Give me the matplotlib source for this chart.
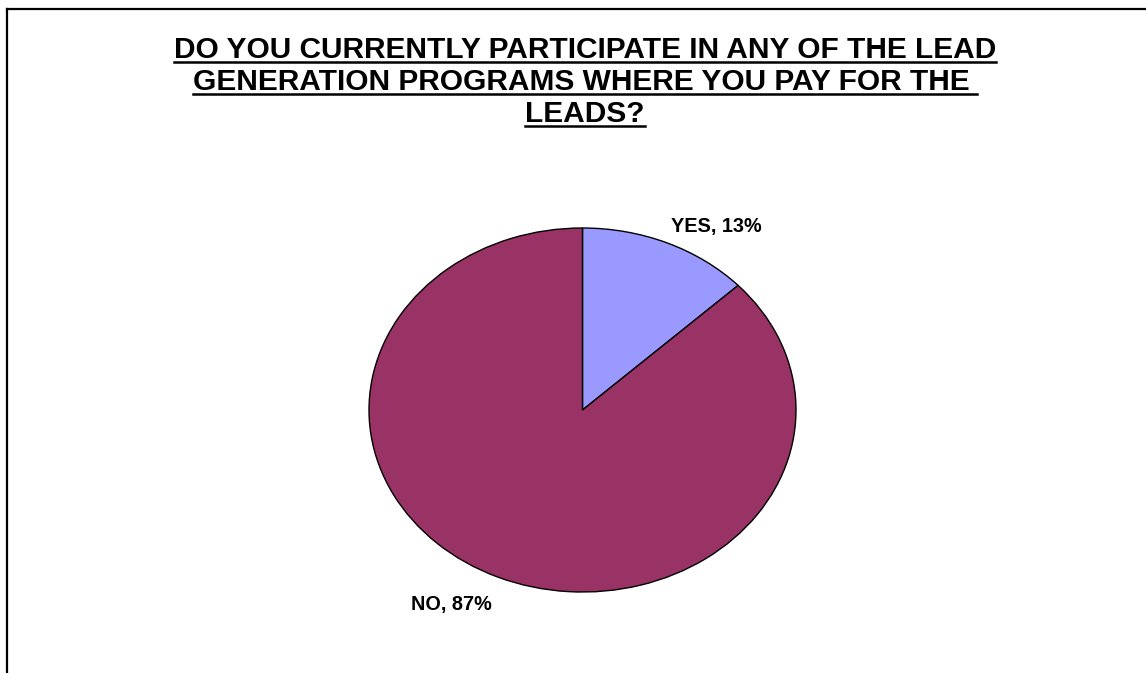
import matplotlib
matplotlib.use("Agg")
import matplotlib.pyplot as plt
from matplotlib.lines import Line2D
import numpy as np

categories = ["YES", "NO"]
shares = [13, 87]
colors = ["#9999FF", "#993366"]
title_lines = [
    "DO YOU CURRENTLY PARTICIPATE IN ANY OF THE LEAD",
    "GENERATION PROGRAMS WHERE YOU PAY FOR THE ",
    "LEADS?",
]

plt.rcParams["font.family"] = ["Liberation Sans", "DejaVu Sans"]

W, H = 1146, 673
fig = plt.figure(figsize=(W / 100, H / 100), dpi=100)
fig.patch.set_facecolor("white")

# pie axes: stretched ellipse, not equal aspect
cx, cy, rx, ry = 582.5, 410, 213.5, 182
ax = fig.add_axes([(cx - rx) / W, (H - cy - ry) / H, 2 * rx / W, 2 * ry / H])
wedges, _ = ax.pie(
    shares,
    colors=colors,
    startangle=90,
    counterclock=False,
    wedgeprops=dict(edgecolor="black", linewidth=1.0),
)
ax.set_aspect("auto")
ax.set_xlim(-1, 1)
ax.set_ylim(-1, 1)
ax.axis("off")

# data labels set just outside each wedge's rim
label_offsets = [(3, 12), (-4, -20)]  # points
for w, cat, val, off in zip(wedges, categories, shares, label_offsets):
    mid = np.deg2rad((w.theta1 + w.theta2) / 2)
    x, y = np.cos(mid), np.sin(mid)
    ax.annotate(f"{cat}, {val}%", xy=(x, y), xytext=off,
                textcoords="offset points",
                ha="left" if x > 0 else "right", va="center",
                fontsize=14.3, fontweight="bold", annotation_clip=False)

# underlined, centred title lines
title_cx = 585
baselines = [58, 90, 122]
fig.canvas.draw()
renderer = fig.canvas.get_renderer()
for line, by in zip(title_lines, baselines):
    t = fig.text(title_cx / W, 1 - by / H, line, ha="center", va="baseline",
                 fontsize=21.5, fontweight="bold")
    bb = t.get_window_extent(renderer=renderer)
    uy = (H - by - 4) / H
    fig.add_artist(Line2D([bb.x0 / W, bb.x1 / W], [uy, uy], color="black",
                          linewidth=1.8, transform=fig.transFigure))

# chart frame (top and left edges)
fig.add_artist(Line2D([7 / W, 1.0], [1 - 9 / H, 1 - 9 / H], color="black",
                      linewidth=1.6, transform=fig.transFigure))
fig.add_artist(Line2D([7 / W, 7 / W], [0, 1 - 9 / H], color="black",
                      linewidth=1.6, transform=fig.transFigure))

fig.savefig("out.png", dpi=100, facecolor="white")
